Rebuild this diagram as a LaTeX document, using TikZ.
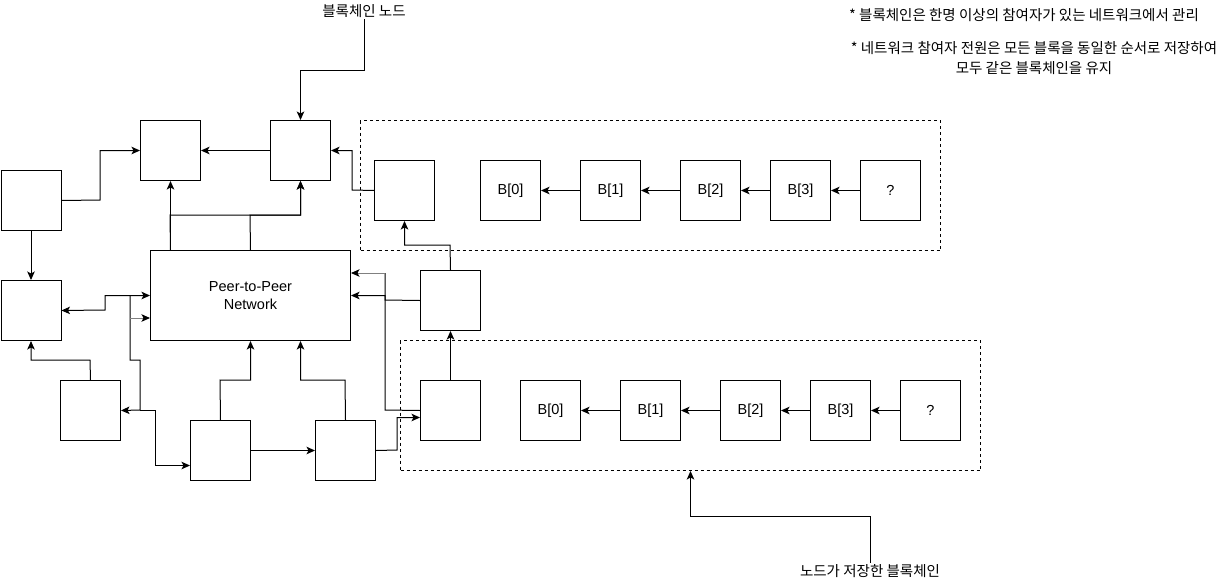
\documentclass[tikz,border=0pt]{standalone}
\usepackage{fontspec}
\setmainfont{Liberation Sans}
\newfontfamily\kr{Noto Sans CJK KR}
\usetikzlibrary{arrows.meta}
\begin{document}
\begin{tikzpicture}[x=1pt,y=-1pt,
  line width=1pt,
  box/.style={draw,line width=1pt,minimum width=60pt,minimum height=60pt,
    inner sep=0pt,anchor=north west,font=\fontsize{14.5}{18}\selectfont},
  group/.style={draw,dashed,dash pattern=on 3pt off 3pt,line width=1pt,
    minimum width=580pt,minimum height=130pt,inner sep=0pt,anchor=north west},
  lbl/.style={inner sep=1pt,font=\kr\fontsize{14.5}{20}\selectfont},
  arr/.style={draw,-{Stealth[length=8.5pt,width=7.5pt,inset=2pt]}},
  biarr/.style={draw,{Stealth[length=8.5pt,width=7.5pt,inset=2pt]}-{Stealth[length=8.5pt,width=7.5pt,inset=2pt]}},
  faintarr/.style={draw=black!50,-{Stealth[length=8.5pt,width=7.5pt,inset=2pt,color=black]}}
]
\useasboundingbox (0,0) rectangle (1231,581);

% dashed groups holding each node's chain copy
\node[group] (G1) at (360,120) {};
\node[group] (G2) at (400,340) {};

% network nodes
\node[box] (A) at (140,120) {};
\node[box] (B) at (270,120) {};
\node[box] (C) at (0.5,170) {};
\node[box] (D) at (0.5,280) {};
\node[box,minimum width=200pt,minimum height=90pt,align=center] (P) at (150,250) {Peer-to-Peer\\Network};
\node[box] (E) at (60,380) {};
\node[box] (F) at (190,420) {};
\node[box] (G) at (315,420) {};
\node[box] (H) at (420,270) {};
\node[box] (I) at (420,380) {};
\node[box] (J) at (374,160) {};

% upper chain
\node[box] (U0) at (480,160) {B[0]};
\node[box] (U1) at (580,160) {B[1]};
\node[box] (U2) at (680,160) {B[2]};
\node[box] (U3) at (770,160) {B[3]};
\node[box] (U4) at (860,160) {?};
\draw[arr] (U1.west) -- (U0.east);
\draw[arr] (U2.west) -- (U1.east);
\draw[arr] (U3.west) -- (U2.east);
\draw[arr] (U4.west) -- (U3.east);

% lower chain
\node[box] (L0) at (520,380) {B[0]};
\node[box] (L1) at (620,380) {B[1]};
\node[box] (L2) at (720,380) {B[2]};
\node[box] (L3) at (810,380) {B[3]};
\node[box] (L4) at (900,380) {?};
\draw[arr] (L1.west) -- (L0.east);
\draw[arr] (L2.west) -- (L1.east);
\draw[arr] (L3.west) -- (L2.east);
\draw[arr] (L4.west) -- (L3.east);

% labels
\node[lbl] (lblNode) at (364,11) {블록체인 노드};
\node[lbl] (lblChain) at (870,571) {노드가 저장한 블록체인};
\node[lbl] (note1) at (1024,15) {* 블록체인은 한명 이상의 참여자가 있는 네트워크에서 관리};
\node[lbl,align=center] (note2) at (1034,58) {* 네트워크 참여자 전원은 모든 블록을 동일한 순서로 저장하여\\모두 같은 블록체인을 유지};

\draw[arr] (lblNode.south) -- (lblNode.south |- 0,70) -| (B.north);
\draw[arr] (lblChain.north) -- (lblChain.north |- 0,516) -| (G2.south);

% connections between network nodes
\draw[arr] (C.east) -- (100,200) |- (A.west);
\draw[arr] (C.south) -- (D.north);
\draw[arr] (B.west) -- (A.east);
\draw[arr] (P.north -| A.south) -- (A.south);
\draw[arr] (P.north -| A.south) -- (170,215) -| (B.south);
\draw[arr] (P.north) -- (250,215) -| (B.south);
\draw[arr] (J.west) -- (352,190) |- (B.east);
\draw[arr] (H.north) -- (450,245) -| (J.south);
\draw[arr] (H.west) -- (385,300) |- (P.east);
\draw (I.west) -- (385,410) -- (385,273);
\draw[faintarr] (385,273) -- (P.east |- 0,273);
\draw[arr] (G.east) -- (397,450) |- ([yshift=-7pt]I.west);
\draw[arr] (I.north) -- (H.south);
\draw[arr] (F.east) -- (G.west);
\draw[arr] (F.north) -- (220,380) -| (P.south);
\draw[arr] (G.north) -- (345,380) -| ([xshift=50pt]P.south);
\draw[arr] (E.north) -- (90,360) -| (D.south);
\draw[biarr] (D.east) -- (105,310) |- (P.west);
\draw[arr] (130,295) -- (130,360) -| (140,410) -- (E.east);
\draw[arr] (140,410) -- (155,410) |- ([yshift=-15pt]F.west);
\draw[faintarr] (130,318) -- (P.west |- 0,318);
\end{tikzpicture}
\end{document}
